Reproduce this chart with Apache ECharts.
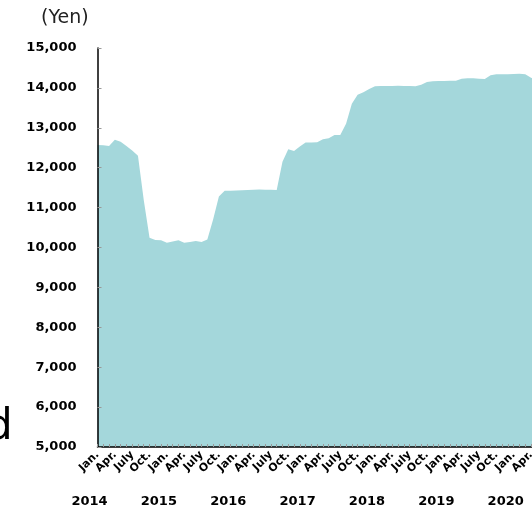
<!DOCTYPE html>
<html>
<head>
<meta charset="utf-8">
<script src="https://cdn.jsdelivr.net/npm/echarts@6/dist/echarts.min.js"></script>
<style>
html,body{margin:0;padding:0;background:#fff;overflow:hidden;width:532px;height:509px;}
#chart{width:600px;height:509px;}
</style>
</head>
<body>
<div id="chart"></div>
<script>
// Data (monthly, Jan 2014 – Jun 2020)
var years = ['2014','2015','2016','2017','2018','2019','2020'];
var monthNames = ['Jan.','Feb.','Mar.','Apr.','May','June','July','Aug.','Sep.','Oct.','Nov.','Dec.'];
var quarterLabels = ['Jan.','Apr.','July','Oct.'];
var yTicks = [5000,6000,7000,8000,9000,10000,11000,12000,13000,14000,15000];
var prices = [
  12570,12560,12545,12700,12650,12545,12430,12300,11190,10245,10190,10180,
  10120,10150,10180,10120,10140,10160,10140,10200,10700,11280,11420,11425,
  11430,11435,11440,11450,11455,11450,11445,11440,12150,12460,12420,12530,
  12630,12630,12640,12710,12740,12820,12820,13100,13600,13830,13890,13970,
  14040,14045,14050,14050,14055,14050,14045,14040,14080,14150,14165,14170,
  14175,14180,14180,14230,14240,14240,14230,14220,14320,14340,14340,14345,
  14350,14355,14340,14255,14200,14150
];

var categories = [];
for (var i = 0; i < prices.length; i++) {
  var y = years[Math.floor(i / 12)];
  categories.push(y + '-' + monthNames[i % 12]);
}

var chart = echarts.init(document.getElementById('chart'));
var font = 'DejaVu Sans';
chart.setOption({
  animation: false,
  backgroundColor: '#fff',
  grid: { left: 97.5, right: 57.4, top: 48, bottom: 62, containLabel: false },
  xAxis: [{
    type: 'category',
    data: categories,
    boundaryGap: false,
    position: 'bottom',
    z: 10,
    axisLine: { show: true, lineStyle: { color: '#000', width: 1.5 } },
    axisTick: { show: true, inside: true, length: 3, interval: 0, lineStyle: { color: '#999' } },
    axisLabel: {
      interval: function (idx) { return idx % 3 === 0; },
      formatter: function (v, idx) { return quarterLabels[(idx % 12) / 3]; },
      rotate: 45, margin: 6,
      fontFamily: font, fontWeight: 'bold', fontSize: 11, color: '#000'
    },
    splitLine: { show: false }
  }, {
    type: 'category',
    data: categories,
    boundaryGap: false,
    position: 'bottom',
    offset: 40,
    axisLine: { show: false },
    axisTick: { show: false },
    axisLabel: {
      interval: function (idx) { return idx % 12 === 0; },
      formatter: function (v) { return v.slice(0, 4); },
      margin: 8, padding: [0, 16, 0, 0],
      fontFamily: font, fontWeight: 'bold', fontSize: 13, color: '#000'
    },
    splitLine: { show: false }
  }],
  yAxis: {
    type: 'value',
    min: yTicks[0], max: yTicks[yTicks.length - 1], interval: 1000,
    z: 10,
    axisLine: { show: true, lineStyle: { color: '#000', width: 1.5 } },
    axisTick: { show: true, inside: true, length: 4, lineStyle: { color: '#999' } },
    axisLabel: {
      margin: 21,
      formatter: function (v) { return v.toLocaleString('en-US'); },
      fontFamily: font, fontWeight: 'bold', fontSize: 13, color: '#000'
    },
    splitLine: { show: false }
  },
  graphic: [
    { type: 'text', left: 41, top: 9, style: { text: '(Yen)', font: '19px "DejaVu Sans"', fill: '#222' } },
    { type: 'text', x: -14, y: 407, style: { text: 'd', font: '42px "DejaVu Sans"', fill: '#000' } }
  ],
  series: [{
    type: 'line',
    xAxisIndex: 0,
    data: prices,
    symbol: 'none',
    smooth: false,
    lineStyle: { width: 0, color: '#a4d7db' },
    areaStyle: { color: '#a4d7db', opacity: 1 },
    z: 1
  }]
});
</script>
</body>
</html>
